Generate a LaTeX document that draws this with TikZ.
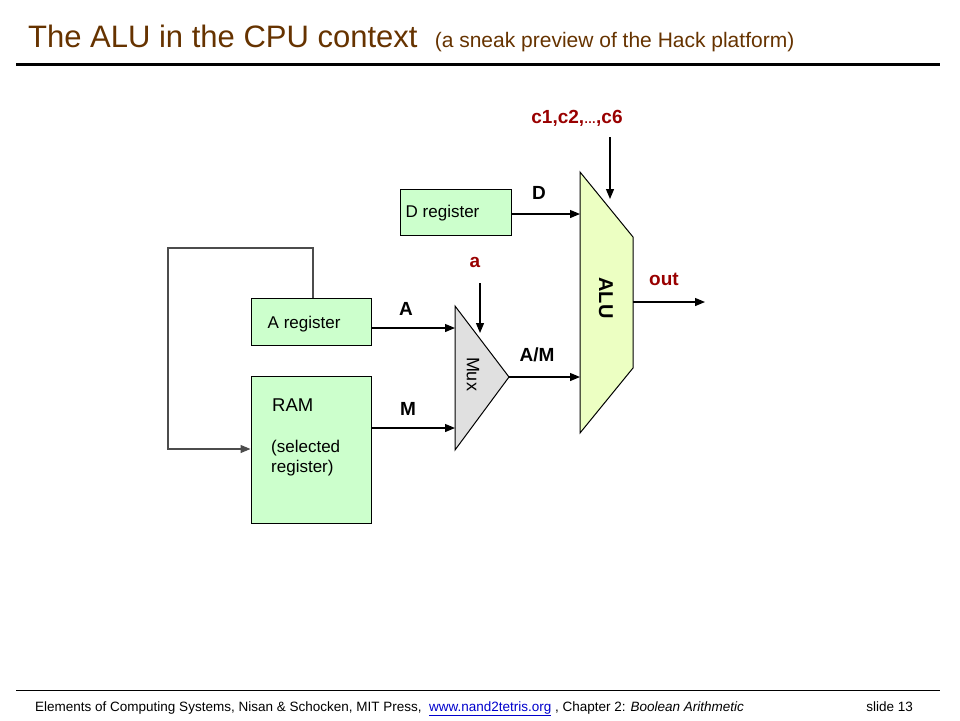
\documentclass[tikz,border=0pt]{standalone}
\usepackage{fontspec}
\setmainfont{Liberation Sans}
\usetikzlibrary{arrows.meta}
\definecolor{titlebrown}{RGB}{102,51,0}
\definecolor{labelred}{RGB}{153,0,0}
\definecolor{regfill}{RGB}{204,255,204}
\definecolor{alufill}{RGB}{236,255,194}
\definecolor{muxfill}{RGB}{224,224,224}
\definecolor{linkblue}{RGB}{0,0,204}
\begin{document}
\begin{tikzpicture}
[x=1pt,y=-1pt,
  regbox/.style={draw,fill=regfill,line width=1pt,inner sep=0pt},%
  regtext/.style={anchor=west,inner sep=0pt,font=\fontsize{17}{20}\selectfont},%
  wire/.style={line width=1.2pt,-{Triangle[length=10pt,width=8pt]}},%
  buslabel/.style={font=\fontsize{19}{22}\selectfont\bfseries},%
  ctrllabel/.style={buslabel,text=labelred}]
\useasboundingbox (0,0) rectangle (960,720);
%% title and footer
\node[anchor=base west,inner sep=0pt,text=titlebrown] (title) at (28,47)
  {\fontsize{31}{36}\selectfont The ALU in the CPU context\ \
   \fontsize{21}{24}\selectfont(a sneak preview of the Hack platform)};
\draw[line width=3pt] (16,64) -- (940,64);
\draw[line width=0.8pt] (16,690) -- (940,690);
\node[anchor=base west,inner sep=0pt,font=\fontsize{13.5}{16}\selectfont] (foot) at (35,711)
  {Elements of Computing Systems, Nisan \& Schocken, MIT Press,\ \ 
   \textcolor{linkblue}{\underline{www.nand2tetris.org}}\ , Chapter 2: \textit{Boolean Arithmetic}};
\node[anchor=base east,inner sep=0pt,font=\fontsize{13.5}{16}\selectfont] (slide) at (913,711) {slide 13};
%% registers
\node[regbox,minimum width=111,minimum height=46] (dreg) at (455.5,212) {};
\node[regbox,minimum width=120,minimum height=47] (areg) at (311,321.5) {};
\node[regbox,minimum width=120,minimum height=147] (ram) at (311,449.5) {};
\node[regtext] at ([xshift=6,yshift=-1]dreg.west) {D register};
\node[regtext] at ([xshift=17,yshift=-3]areg.west) {A register};
\node[regtext,anchor=base west,font=\fontsize{18.5}{22}\selectfont] at (272,411) {RAM};
\node[regtext,anchor=base west,align=left] at (271,472) {(selected\\[0pt]register)};
%% alu and mux
\draw[fill=alufill,line width=1pt] (580,172) -- (633,237) -- (633,368) -- (580,433) -- cycle;
\draw[fill=muxfill,line width=1pt] (455,306) -- (509,377) -- (455,450) -- cycle;
\node[rotate=-90,font=\fontsize{20}{24}\selectfont\bfseries] (alu) at (606,298) {ALU};
\node[rotate=-90,font=\fontsize{18}{22}\selectfont] (mux) at (473,374) {Mux};
\coordinate (alu-d) at (580,214);
\coordinate (alu-am) at (580,377);
\coordinate (alu-out) at (633,302);
\coordinate (alu-c) at (610,199);
\coordinate (mux-a) at (455,328);
\coordinate (mux-m) at (455,428);
\coordinate (mux-sel) at (480,333);
\coordinate (mux-out) at (509,377);
\coordinate (c-top) at (610,137);
\coordinate (a-top) at (480,283);
\coordinate (out-end) at (705,302);
%% wires
\draw[wire] (dreg.east |- alu-d) -- (alu-d);
\draw[wire] (areg.east |- mux-a) -- (mux-a);
\draw[wire] (ram.east |- mux-m) -- (mux-m);
\draw[wire] (mux-out) -- (alu-am);
\draw[wire] (alu-out) -- (out-end);
\draw[wire] (c-top) -- (alu-c);
\draw[wire] (a-top) -- (mux-sel);
\draw[wire,draw=black!70]
  (areg.north -| 313,0) -- (313,248) -- (168,248) -- (168,449) -- (ram.west |- 0,449);
%% labels
\node[buslabel] (lbl-d) at (539,193) {D};
\node[buslabel] (lbl-a) at (406,309) {A};
\node[buslabel] (lbl-m) at (408,409) {M};
\node[buslabel] (lbl-am) at (537,355) {A/M};
\node[ctrllabel] (lbl-c) at (577,118) {c1,c2,{\fontsize{12}{14}\selectfont\ldots},c6};
\node[ctrllabel] (lbl-sel) at (475,262) {a};
\node[ctrllabel] (lbl-out) at (664,279) {out};
\end{tikzpicture}
\end{document}
